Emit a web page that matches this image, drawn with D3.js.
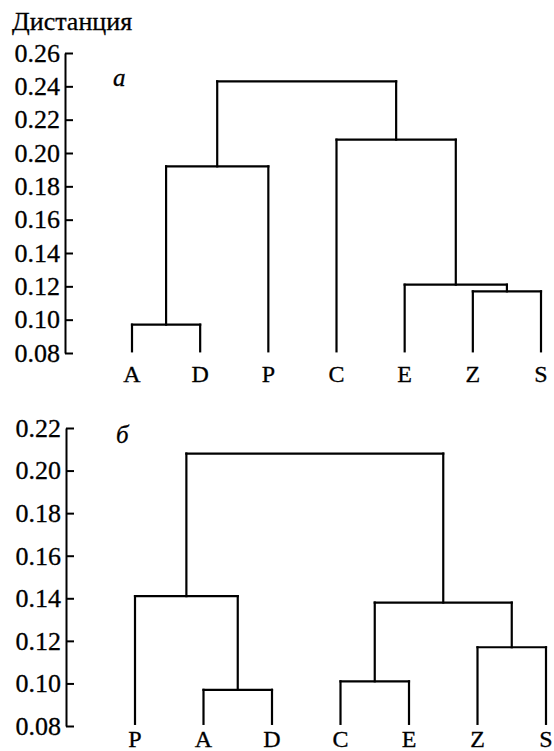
<!DOCTYPE html>
<html>
<head>
<meta charset="utf-8">
<script src="https://cdn.jsdelivr.net/npm/d3@7"></script>
<style>
  html, body { margin: 0; padding: 0; background: #fff; }
  svg { display: block; }
</style>
</head>
<body>
<div id="chart"></div>
<script>
// ---------- data ----------
const yTitle = "Дистанция";

const panelALabel = "а";
const leavesA = ["A", "D", "P", "C", "E", "Z", "S"];
// merges: [left, right, height]; internal nodes referenced by concatenated name
const mergesA = [
  ["A", "D", 0.097],
  ["Z", "S", 0.117],
  ["E", "ZS", 0.121],
  ["AD", "P", 0.192],
  ["C", "EZS", 0.208],
  ["ADP", "CEZS", 0.243]
];
const ticksA = [0.08, 0.10, 0.12, 0.14, 0.16, 0.18, 0.20, 0.22, 0.24, 0.26];

const panelBLabel = "б";
const leavesB = ["P", "A", "D", "C", "E", "Z", "S"];
const mergesB = [
  ["A", "D", 0.097],
  ["C", "E", 0.101],
  ["Z", "S", 0.117],
  ["CE", "ZS", 0.138],
  ["P", "AD", 0.141],
  ["PAD", "CEZS", 0.208]
];
const ticksB = [0.08, 0.10, 0.12, 0.14, 0.16, 0.18, 0.20, 0.22];

const leafBase = 0.081;

// ---------- drawing ----------
const W = 554, H = 751;
const FONT = "'Liberation Serif'";
const svg = d3.select("#chart").append("svg").attr("width", W).attr("height", H);

function styleText(sel, size) {
  return sel.style("font-family", FONT).style("font-size", size + "px")
    .style("fill", "#000").style("stroke", "#000").style("stroke-width", "0.3px");
}

styleText(svg.append("text").attr("x", 12).attr("y", 30).text(yTitle), 26);

function panel(cfg) {
  const g = svg.append("g");
  const y = d3.scaleLinear().domain([cfg.ticks[0], cfg.ticks[cfg.ticks.length - 1]])
    .range([cfg.yBottom, cfg.yTop]);
  const x = d3.scalePoint().domain(cfg.leaves).range([cfg.xLeft, cfg.xRight]);

  const axis = d3.axisLeft(y).tickValues(cfg.ticks)
    .tickFormat(d3.format(".2f"))
    .tickSizeInner(-8).tickSizeOuter(0).tickPadding(5);
  const ag = g.append("g").attr("transform", `translate(${cfg.axisX},0)`).call(axis);
  ag.select(".domain").attr("stroke", "#000").attr("stroke-width", 2);
  ag.selectAll(".tick line").attr("stroke", "#000").attr("stroke-width", 2);
  styleText(ag.selectAll(".tick text"), 26);

  // node positions
  const pos = {};
  cfg.leaves.forEach(l => { pos[l] = { x: x(l), h: leafBase }; });
  const lines = [];
  cfg.merges.forEach(([a, b, h]) => {
    const pa = pos[a], pb = pos[b];
    lines.push([pa.x, pa.h, pa.x, h]);
    lines.push([pb.x, pb.h, pb.x, h]);
    lines.push([pa.x, h, pb.x, h]);
    pos[a + b] = { x: (pa.x + pb.x) / 2, h: h };
  });

  g.selectAll("line.dend").data(lines).join("line")
    .attr("class", "dend")
    .attr("x1", d => d[0]).attr("y1", d => y(d[1]))
    .attr("x2", d => d[2]).attr("y2", d => y(d[3]))
    .attr("stroke", "#000").attr("stroke-width", 2.2)
    .attr("stroke-linecap", "square");

  styleText(g.selectAll("text.leaf").data(cfg.leaves).join("text")
    .attr("class", "leaf")
    .attr("x", d => x(d)).attr("y", cfg.labelY)
    .attr("text-anchor", "middle")
    .text(d => d), 24);

  styleText(g.append("text")
    .attr("x", cfg.tagX).attr("y", cfg.tagY)
    .style("font-style", "italic")
    .text(cfg.tag), 25);
}

panel({
  leaves: leavesA, merges: mergesA, ticks: ticksA, tag: panelALabel,
  yTop: 53, yBottom: 353, xLeft: 132, xRight: 541, axisX: 65,
  labelY: 382, tagX: 113, tagY: 86
});

panel({
  leaves: leavesB, merges: mergesB, ticks: ticksB, tag: panelBLabel,
  yTop: 428, yBottom: 726, xLeft: 135, xRight: 546, axisX: 66,
  labelY: 747, tagX: 116, tagY: 443
});
</script>
</body>
</html>
